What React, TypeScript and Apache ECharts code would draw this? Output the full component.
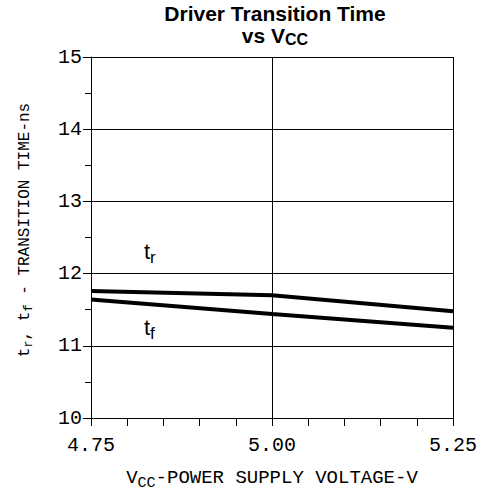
import React, { useEffect, useRef } from "react";
import * as echarts from "echarts";

const vccVolts = [4.75, 5.0, 5.25];
const riseTimeNs = [11.76, 11.7, 11.48];
const fallTimeNs = [11.64, 11.44, 11.25];
const yRange = [10, 15];
const xRange = [4.75, 5.25];

const MONO = "Liberation Mono";
const SANS = "Liberation Sans";

export default function App() {
  const ref = useRef<HTMLDivElement>(null);
  useEffect(() => {
    document.body.style.margin = "0";
    const chart = echarts.init(ref.current!, null, { renderer: "svg" });
    const black = "#000";
    chart.setOption({
      animation: false,
      backgroundColor: "#fff",
      title: {
        text: "Driver Transition Time\nvs V{sub|CC}",
        left: 270,
        top: -3,
        textAlign: "center",
        textStyle: {
          fontFamily: SANS,
          fontWeight: "bold",
          fontSize: 21,
          lineHeight: 22,
          color: black,
          rich: {
            sub: { fontFamily: SANS, fontWeight: "bold", fontSize: 16, padding: [8, 0, 0, 0], color: black },
          },
        },
      },
      grid: { left: 91, right: 29, top: 57, bottom: 82 },
      xAxis: {
        type: "value",
        min: xRange[0],
        max: xRange[1],
        interval: 0.25,
        axisLine: { show: true, lineStyle: { color: black, width: 1 } },
        axisTick: { show: true, length: 8, lineStyle: { color: black } },
        minorTick: { show: true, splitNumber: 5, length: 8, lineStyle: { color: black } },
        splitLine: { show: true, lineStyle: { color: black, width: 1 } },
        axisLabel: {
          fontFamily: MONO,
          fontSize: 20,
          color: black,
          margin: 17,
          formatter: (v: number) => v.toFixed(2),
        },
      },
      yAxis: {
        type: "value",
        min: yRange[0],
        max: yRange[1],
        interval: 1,
        axisLine: { show: true, lineStyle: { color: black, width: 1 } },
        axisTick: { show: true, length: 8, lineStyle: { color: black } },
        minorTick: { show: true, splitNumber: 2, length: 6, lineStyle: { color: black } },
        splitLine: { show: true, lineStyle: { color: black, width: 1 } },
        axisLabel: { fontFamily: MONO, fontSize: 20, color: black, margin: 9 },
      },
      series: [
        {
          name: "tr",
          type: "line",
          data: vccVolts.map((v, i) => [v, riseTimeNs[i]]),
          symbol: "none",
          lineStyle: { color: black, width: 4 },
        },
        {
          name: "tf",
          type: "line",
          data: vccVolts.map((v, i) => [v, fallTimeNs[i]]),
          symbol: "none",
          lineStyle: { color: black, width: 4 },
        },
      ],
      graphic: [
        {
          type: "text",
          x: 25,
          y: 230,
          rotation: Math.PI / 2,
          style: {
            text: "t{s|r}, t{s|f} - TRANSITION TIME-ns",
            font: `16px '${MONO}'`,
            fill: black,
            align: "center",
            verticalAlign: "middle",
            rich: { s: { fontFamily: MONO, fontSize: 12, padding: [8, 0, 0, 0], fill: black } },
          },
        },
        {
          type: "text",
          x: 272,
          y: 478,
          style: {
            text: "V{s|CC}-POWER SUPPLY VOLTAGE-V",
            font: `19px '${MONO}'`,
            fill: black,
            align: "center",
            verticalAlign: "middle",
            rich: { s: { fontFamily: MONO, fontSize: 15, padding: [10, 0, 0, 0], fill: black } },
          },
        },
        {
          type: "text",
          x: 144,
          y: 251,
          style: {
            text: "t{s|r}",
            font: `22px '${SANS}'`,
            fill: black,
            align: "left",
            verticalAlign: "middle",
            rich: { s: { fontFamily: SANS, fontSize: 17, padding: [12, 0, 0, 0], fill: black } },
          },
        },
        {
          type: "text",
          x: 144,
          y: 327,
          style: {
            text: "t{s|f}",
            font: `22px '${SANS}'`,
            fill: black,
            align: "left",
            verticalAlign: "middle",
            rich: { s: { fontFamily: SANS, fontSize: 17, padding: [12, 0, 0, 0], fill: black } },
          },
        },
      ],
    });
    return () => chart.dispose();
  }, []);
  return <div ref={ref} style={{ width: 482, height: 500 }} />;
}
